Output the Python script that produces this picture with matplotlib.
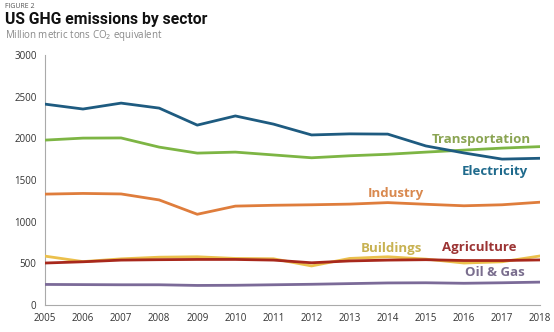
import matplotlib
matplotlib.use("Agg")
import matplotlib.pyplot as plt

years = list(range(2005, 2019))
electricity = [2412, 2353, 2424, 2364, 2160, 2270, 2172, 2042, 2055, 2052, 1910, 1826, 1752, 1762]
transportation = [1980, 2004, 2006, 1896, 1824, 1836, 1802, 1768, 1792, 1810, 1836, 1860, 1884, 1902]
industry = [1332, 1340, 1334, 1262, 1090, 1188, 1198, 1204, 1212, 1230, 1210, 1192, 1204, 1235]
buildings = [588, 522, 555, 575, 580, 560, 556, 470, 560, 580, 552, 505, 520, 590]
agriculture = [505, 520, 540, 545, 548, 548, 540, 508, 530, 540, 545, 535, 535, 542]
oil_gas = [248, 246, 244, 244, 236, 238, 244, 250, 258, 266, 268, 262, 268, 276]

series = [
    ("Transportation", transportation, "#7db544", "#8aa452"),
    ("Electricity", electricity, "#1e5b80", "#1f6a8c"),
    ("Industry", industry, "#df7d3c", "#d9894f"),
    ("Buildings", buildings, "#ebc04c", "#c8b252"),
    ("Agriculture", agriculture, "#a8281c", "#9c3434"),
    ("Oil & Gas", oil_gas, "#7b6a98", "#7a6e8e"),
]
label_pos = {
    "Transportation": (2016.45, 1990),
    "Electricity": (2016.8, 1600),
    "Industry": (2014.2, 1340),
    "Buildings": (2014.1, 680),
    "Agriculture": (2016.4, 690),
    "Oil & Gas": (2016.8, 390),
}

fig = plt.figure(figsize=(5.54, 3.32), dpi=100)
ax = fig.add_axes([0.081, 0.081, 0.894, 0.753])

order = ["Oil & Gas", "Buildings", "Agriculture", "Industry", "Transportation", "Electricity"]
d = {s[0]: s for s in series}
for name in order:
    _, vals, lc, tc = d[name]
    ax.plot(years, vals, color=lc, lw=2.0, solid_joinstyle="round", zorder=3)
for name, vals, lc, tc in series:
    x, y = label_pos[name]
    ax.text(x, y, name, color=tc, fontsize=9.5, fontweight="bold", ha="center", va="center",
            family="Open Sans")

ax.set_xlim(2005, 2018)
ax.set_ylim(0, 3000)
ax.set_xticks(years)
ax.set_xticklabels([str(y) for y in years])
ax.set_yticks(range(0, 3001, 500))
ax.tick_params(length=0, labelsize=7, colors="#333333", pad=6)
for lab in ax.get_xticklabels() + ax.get_yticklabels():
    lab.set_family("Open Sans")
for s in ["top", "right"]:
    ax.spines[s].set_visible(False)
for s in ["left", "bottom"]:
    ax.spines[s].set_color("#aaaaaa")
    ax.spines[s].set_linewidth(0.8)

fig.text(0.009, 0.99, "FIGURE 2", fontsize=5, color="#555555", va="top", family="Open Sans")
fig.text(0.009, 0.965, "US GHG emissions by sector", fontsize=11.3, fontweight="bold",
         color="#111111", va="top", family="Roboto")
fig.text(0.009, 0.915, "Million metric tons CO$_2$ equivalent", fontsize=7, color="#888888",
         va="top", family="Open Sans")

fig.savefig("out.png", dpi=100)
